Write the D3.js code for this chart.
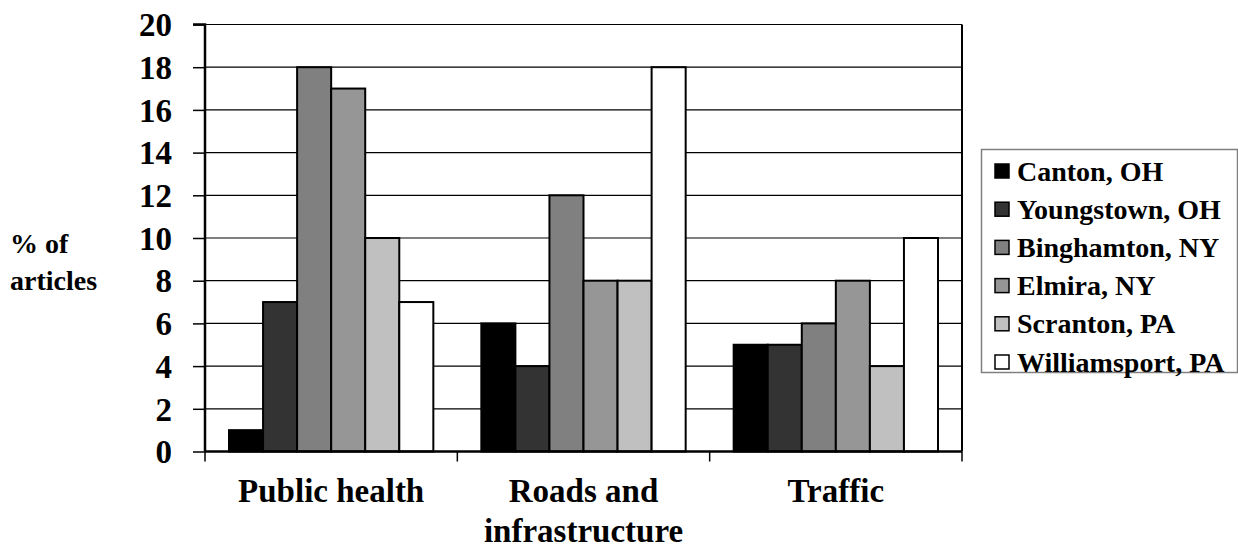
<!DOCTYPE html>
<html><head><meta charset="utf-8">
<script src="https://cdn.jsdelivr.net/npm/d3@7"></script>
</head><body style="margin:0">
<svg id="c" width="1238" height="548" font-family="Liberation Serif" font-weight="bold"></svg>
<script>
const categories = ["Public health", "Roads and infrastructure", "Traffic"];
const categoryLines = [["Public health"], ["Roads and", "infrastructure"], ["Traffic"]];
const seriesNames = ["Canton, OH", "Youngstown, OH", "Binghamton, NY", "Elmira, NY", "Scranton, PA", "Williamsport, PA"];
const seriesColors = ["#000000", "#333333", "#808080", "#969696", "#c0c0c0", "#ffffff"];
const canton = [1, 6, 5];
const youngstown = [7, 4, 5];
const binghamton = [18, 12, 6];
const elmira = [17, 8, 8];
const scranton = [10, 8, 4];
const williamsport = [7, 18, 10];
const yTicks = [0, 2, 4, 6, 8, 10, 12, 14, 16, 18, 20];

const series = [canton, youngstown, binghamton, elmira, scranton, williamsport];
const FF = "Liberation Serif";
const svg = d3.select("#c");
const L = 205, R = 962, T = 24.5, B = 451.5;
const x0 = d3.scaleBand().domain(categories).range([L, R]).paddingInner(0).paddingOuter(0);
const x1 = d3.scaleBand().domain(d3.range(seriesNames.length)).range([24, x0.bandwidth() - 24]).padding(0);
const y = d3.scaleLinear().domain([0, 20]).range([B, T]);

function serif(sel, size) {
  sel.attr("font-family", FF).attr("font-weight", "bold").attr("font-size", size)
    .style("font-family", FF, "important").style("font-weight", "bold", "important").style("font-size", size + "px", "important");
  return sel;
}

// gridlines
svg.append("g").selectAll("line").data(yTicks.filter(d => d > 0)).join("line")
  .attr("x1", L).attr("x2", R).attr("y1", d => y(d)).attr("y2", d => y(d))
  .attr("stroke", "#000").attr("stroke-width", 1.2);
// right border
svg.append("line").attr("x1", R).attr("x2", R).attr("y1", T).attr("y2", B).attr("stroke", "#000").attr("stroke-width", 2);

// bars
const g = svg.append("g");
categories.forEach((c, ci) => {
  series.forEach((s, si) => {
    g.append("rect")
      .attr("x", x0(c) + x1(si)).attr("width", x1.bandwidth())
      .attr("y", y(s[ci])).attr("height", B - y(s[ci]))
      .attr("fill", seriesColors[si]).attr("stroke", "#000").attr("stroke-width", 2);
  });
});

// y axis
const ya = svg.append("g").attr("transform", `translate(${L},0)`)
  .call(d3.axisLeft(y).tickValues(yTicks).tickSize(12).tickPadding(21));
serif(ya, 33);
ya.select(".domain").attr("stroke-width", 2.5).attr("d", `M-12,${T}H0V${B}`);
ya.selectAll(".tick line").attr("stroke-width", 1.5);
serif(ya.selectAll("text"), 33).attr("dy", "0.34em");

// x axis
const xa = svg.append("g").attr("transform", `translate(0,${B})`);
xa.append("line").attr("x1", L).attr("x2", R).attr("stroke", "#000").attr("stroke-width", 2.5);
xa.selectAll("line.tk").data(categories.concat([null])).join("line").attr("class", "tk")
  .attr("x1", (d, i) => i < categories.length ? x0(d) : R).attr("x2", (d, i) => i < categories.length ? x0(d) : R)
  .attr("y1", 0).attr("y2", 10).attr("stroke", "#000").attr("stroke-width", 1.5);
categoryLines.forEach((lines, i) => {
  lines.forEach((ln, j) => serif(xa.append("text"), 33).attr("text-anchor", "middle")
    .attr("x", x0(categories[i]) + x0.bandwidth() / 2).attr("y", 50 + j * 40).text(ln));
});

// y title
serif(svg.append("text"), 28).attr("x", 10).attr("y", 253).text("% of");
serif(svg.append("text"), 28).attr("x", 10).attr("y", 290).text("articles");

// legend
const lg = svg.append("g");
lg.append("rect").attr("x", 981.5).attr("y", 149.5).attr("width", 256).attr("height", 223)
  .attr("fill", "#fff").attr("stroke", "#808080").attr("stroke-width", 1.5);
seriesNames.forEach((n, i) => {
  const cy = 171 + i * 38.2;
  lg.append("rect").attr("x", 995).attr("y", cy - 7).attr("width", 14).attr("height", 14)
    .attr("fill", seriesColors[i]).attr("stroke", "#000").attr("stroke-width", 1.5);
  serif(lg.append("text"), 28).attr("x", 1017).attr("y", cy + 9.5).text(n);
});
</script></body></html>
